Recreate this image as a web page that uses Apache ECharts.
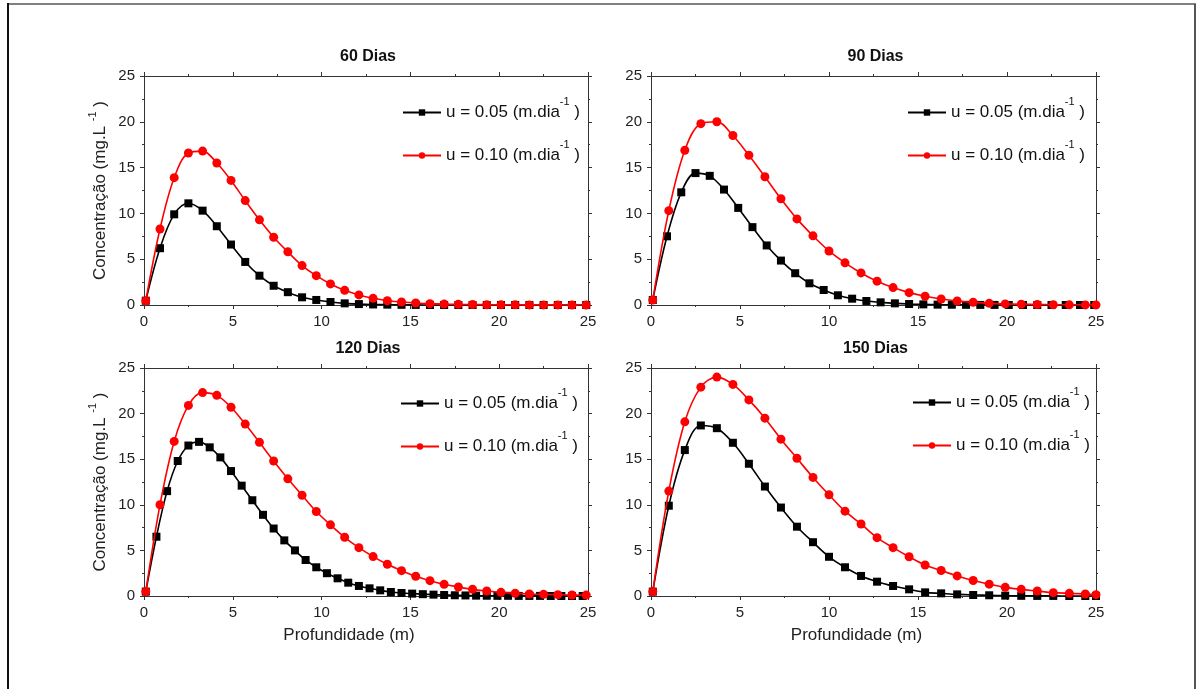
<!DOCTYPE html>
<html><head><meta charset="utf-8">
<script src="https://cdn.jsdelivr.net/npm/echarts@6/dist/echarts.min.js"></script>
<style>html,body{margin:0;padding:0;background:#fff}#c{width:1202px;height:689px}</style>
</head><body><div id="c"></div>
<script>
// ---- data ----
const panelTitles = ['60 Dias', '90 Dias', '120 Dias', '150 Dias'];
const seriesNames = ['u = 0.05', 'u = 0.10'];
const xTicks = [0, 5, 10, 15, 20, 25];
const yTicks = [0, 5, 10, 15, 20, 25];

const x08 = [0.1,0.9,1.7,2.5,3.3,4.1,4.9,5.7,6.5,7.3,8.1,8.9,9.7,10.5,11.3,12.1,12.9,13.7,14.5,15.3,16.1,16.9,17.7,18.5,19.3,20.1,20.9,21.7,22.5,23.3,24.1,24.9];
const x09 = [0.1,1.0,1.9,2.8,3.7,4.6,5.5,6.4,7.3,8.2,9.1,10.0,10.9,11.8,12.7,13.6,14.5,15.4,16.3,17.2,18.1,19.0,19.9,20.8,21.7,22.6,23.5,24.4,25.0];
const x06 = [0.1,0.7,1.3,1.9,2.5,3.1,3.7,4.3,4.9,5.5,6.1,6.7,7.3,7.9,8.5,9.1,9.7,10.3,10.9,11.5,12.1,12.7,13.3,13.9,14.5,15.1,15.7,16.3,16.9,17.5,18.1,18.7,19.3,19.9,20.5,21.1,21.7,22.3,22.9,23.5,24.1,24.7];

const black60 = [0.47,6.2,9.9,11.1,10.3,8.6,6.6,4.7,3.2,2.1,1.4,0.84,0.55,0.33,0.18,0.1,0.06,0.04,0.02,0.01,0,0,0,0,0,0,0,0,0,0,0,0];
const red60 = [0.47,8.3,13.9,16.6,16.8,15.5,13.6,11.4,9.3,7.4,5.8,4.3,3.2,2.3,1.6,1.1,0.73,0.47,0.33,0.22,0.15,0.1,0.07,0.05,0.03,0.02,0.02,0.01,0.01,0.01,0,0];
const black90 = [0.55,7.5,12.3,14.4,14.1,12.6,10.6,8.5,6.5,4.85,3.47,2.37,1.64,1.06,0.69,0.44,0.29,0.18,0.11,0.07,0.04,0.03,0.02,0.01,0.01,0,0,0,0,0,0,0];
const red90 = [0.55,10.3,16.9,19.8,20.0,18.5,16.35,14.0,11.6,9.4,7.55,5.9,4.6,3.5,2.6,1.9,1.35,0.95,0.66,0.44,0.29,0.18,0.12,0.08,0.05,0.03,0.02,0.01,0.01];
const black120 = [0.48,6.5,11.5,14.8,16.5,16.9,16.3,15.2,13.7,12.1,10.5,8.9,7.4,6.1,5.0,3.95,3.15,2.5,1.94,1.46,1.1,0.84,0.62,0.44,0.33,0.26,0.2,0.15,0.11,0.08,0.06,0.04,0.03,0.02,0.02,0.01,0.01,0.01,0,0,0,0];
const red120 = [0.48,10.0,16.95,20.9,22.3,22.0,20.7,18.85,16.85,14.8,12.85,11.05,9.26,7.8,6.44,5.3,4.32,3.48,2.78,2.16,1.68,1.28,0.99,0.73,0.55,0.4,0.29,0.22,0.18,0.15,0.11,0.1];
const black150 = [0.48,9.9,16.0,18.7,18.4,16.8,14.5,12.0,9.7,7.6,5.9,4.3,3.15,2.2,1.57,1.1,0.73,0.4,0.29,0.18,0.11,0.08,0.04,0.02,0.01,0.01,0,0,0];
const red150 = [0.48,11.5,19.1,22.9,24.0,23.2,21.5,19.5,17.2,15.1,13.0,11.1,9.3,7.9,6.4,5.3,4.3,3.4,2.8,2.2,1.7,1.3,0.95,0.73,0.55,0.37,0.29,0.22,0.15];

const panels = [
  {bx: x08, by: black60, rx: x08, ry: red60},
  {bx: x08, by: black90, rx: x09, ry: red90},
  {bx: x06, by: black120, rx: x08, ry: red120},
  {bx: x09, by: black150, rx: x09, ry: red150}
];

// ---- layout ----
const grids = [
  {left: 144, top: 76, width: 444, height: 229},
  {left: 651, top: 76, width: 445, height: 229},
  {left: 144, top: 368, width: 444, height: 228},
  {left: 651, top: 368, width: 445, height: 228}
];
const legendPos = [{left: 402, top: 96}, {left: 907, top: 96}, {left: 400, top: 387}, {left: 912, top: 386}];

const axisColor = '#333';
const font = 'Liberation Sans, Arial, sans-serif';
const pair = (xs, ys) => xs.map((x, i) => [x, ys[i]]);

const xAxes = [], yAxes = [], series = [], titles = [], legends = [];
grids.forEach((g, gi) => {
  const isLeft = gi % 2 === 0, isBottom = gi >= 2;
  const common = {
    type: 'value', gridIndex: gi,
    axisLine: {show: true, onZero: false, lineStyle: {color: axisColor, width: 1}},
    axisTick: {show: true, inside: false, length: 4, lineStyle: {color: axisColor}},
    minorTick: {show: true, splitNumber: 2, length: 2, lineStyle: {color: axisColor}},
    splitLine: {show: false}, minorSplitLine: {show: false}
  };
  xAxes.push(Object.assign({}, common, {
    position: 'bottom', min: xTicks[0], max: xTicks[xTicks.length - 1], interval: xTicks[1] - xTicks[0],
    axisLabel: {show: true, margin: 9, fontSize: 15, color: '#222', fontFamily: font},
    name: isBottom ? 'Profundidade (m)' : '', nameLocation: 'middle', nameGap: 31,
    nameTextStyle: {fontSize: 17, color: '#222', fontFamily: font, padding: [0, 34, 0, 0]}
  }));
  xAxes.push(Object.assign({}, common, {
    position: 'top', min: xTicks[0], max: xTicks[xTicks.length - 1], interval: xTicks[1] - xTicks[0],
    axisLabel: {show: false}
  }));
  yAxes.push(Object.assign({}, common, {
    position: 'left', min: yTicks[0], max: yTicks[yTicks.length - 1], interval: yTicks[1] - yTicks[0],
    axisLabel: {show: true, margin: 9, fontSize: 15, color: '#222', fontFamily: font},
    name: isLeft ? '{a|Concentração (mg.L }{s|-1}{a| )}' : '', nameLocation: 'middle', nameGap: 30,
    nameTextStyle: {fontSize: 17, color: '#222', fontFamily: font,
      rich: {
        a: {fontSize: 17, lineHeight: 20, verticalAlign: 'middle', color: '#222', fontFamily: font},
        s: {fontSize: 11, padding: [0, 0, 16, 0], verticalAlign: 'top', color: '#222', fontFamily: font}
      }}
  }));
  yAxes.push(Object.assign({}, common, {
    position: 'right', min: yTicks[0], max: yTicks[yTicks.length - 1], interval: yTicks[1] - yTicks[0],
    axisLabel: {show: false}
  }));
  const p = panels[gi];
  series.push({
    name: seriesNames[0], type: 'line', xAxisIndex: gi * 2, yAxisIndex: gi * 2,
    data: pair(p.bx, p.by), smooth: 0.35, symbol: 'rect', symbolSize: 8, showSymbol: true,
    lineStyle: {color: '#000', width: 1.6}, itemStyle: {color: '#000'}, z: 2, animation: false
  });
  series.push({
    name: seriesNames[1], type: 'line', xAxisIndex: gi * 2, yAxisIndex: gi * 2,
    data: pair(p.rx, p.ry), smooth: 0.35, symbol: 'circle', symbolSize: 9, showSymbol: true,
    lineStyle: {color: '#ff0000', width: 1.6}, itemStyle: {color: '#ff0000'}, z: 3, animation: false
  });
  titles.push({
    text: panelTitles[gi], left: g.left + g.width / 2 - 3, top: g.top - 32, textAlign: 'center',
    textStyle: {fontSize: 16, fontWeight: 'bold', color: '#111', fontFamily: font}
  });
  legends.push({
    data: seriesNames, orient: 'vertical', left: legendPos[gi].left, top: legendPos[gi].top,
    padding: 0, itemWidth: 38, itemHeight: 8, itemGap: 18, selectedMode: false,
    formatter: n => '{a|' + n + ' (m.dia}{s|-1}{a| )}',
    textStyle: {fontFamily: font, color: '#111', rich: {
      a: {fontSize: 17, lineHeight: 20, verticalAlign: 'middle', fontFamily: font, color: '#111'},
      s: {fontSize: 11, padding: [0, 0, 22, 0], verticalAlign: 'top', fontFamily: font, color: '#111'}
    }}
  });
});

const chart = echarts.init(document.getElementById('c'), null, {renderer: 'canvas'});
chart.setOption({
  animation: false,
  backgroundColor: '#fff',
  title: titles,
  legend: legends,
  grid: grids,
  xAxis: xAxes,
  yAxis: yAxes,
  series: series,
  graphic: [
    {type: 'line', shape: {x1: 7, y1: 4, x2: 1196, y2: 4}, style: {stroke: '#808080', lineWidth: 2}},
    {type: 'line', shape: {x1: 8, y1: 3, x2: 8, y2: 689}, style: {stroke: '#111', lineWidth: 2}},
    {type: 'line', shape: {x1: 1195, y1: 4, x2: 1195, y2: 689}, style: {stroke: '#555', lineWidth: 2}}
  ]
});
</script></body></html>
